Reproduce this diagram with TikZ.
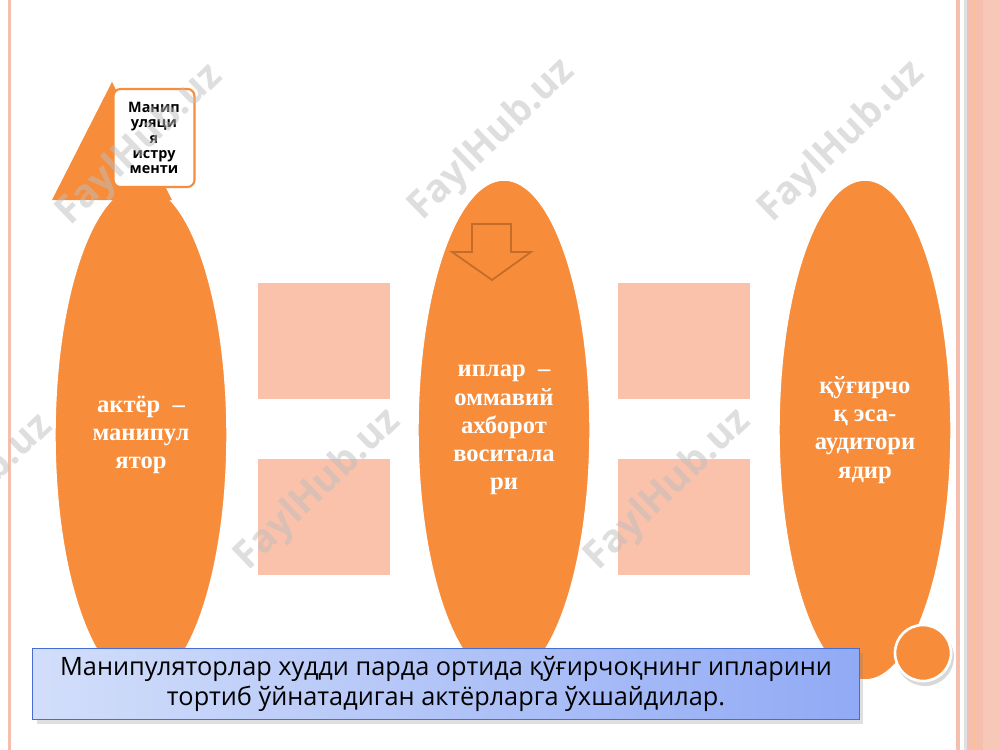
\documentclass[tikz,border=0pt]{standalone}
\usepackage{fontspec}
\setmainfont{Liberation Serif}
\newfontfamily\tagfont{Open Sans}
\usetikzlibrary{shapes.geometric,shadows}

\definecolor{petal}{RGB}{247,140,58}
\definecolor{petaldark}{RGB}{196,108,40}
\definecolor{blush}{RGB}{250,194,170}
\definecolor{edgepink}{RGB}{246,190,172}
\definecolor{noteleft}{RGB}{210,222,250}
\definecolor{noteright}{RGB}{145,170,245}
\definecolor{noteblue}{RGB}{70,110,210}

\tikzset{
  oval/.style={ellipse, fill=petal, draw=white, line width=0.8pt, inner sep=0pt,
    minimum width=3.44cm, minimum height=10cm, align=center, text=white,
    font=\fontsize{14}{16}\selectfont\bfseries},
  pad/.style={fill=blush, minimum width=2.64cm, minimum height=2.34cm, inner sep=0pt},
  tag/.style={rectangle, rounded corners=4pt, fill=white, draw=petal, line width=1.2pt,
    minimum width=1.62cm, minimum height=1.96cm, align=center, inner sep=0pt,
    font=\tagfont\fontsize{8.2}{8.7}\selectfont\bfseries},
  note/.style={rectangle, left color=noteleft, right color=noteright,
    draw=noteblue, line width=0.8pt, minimum width=16.54cm, minimum height=1.42cm,
    align=center, inner sep=0pt, drop shadow={opacity=0.25},
    font=\tagfont\fontsize{14.4}{17}\selectfont},
  stamp/.style={rotate=44, text={rgb,255:red,190;green,190;blue,190}, opacity=0.5,
    font=\tagfont\fontsize{22}{22}\selectfont\bfseries}
}

\begin{document}
\begin{tikzpicture}[x=0.02cm,y=-0.02cm]
\useasboundingbox (0,0) rectangle (1000,750);

% page edges
\fill[edgepink] (8,0) rectangle (11,750);
\fill[edgepink] (956,0) rectangle (1000,750);
\fill[white] (960,0) rectangle (964,750);
\fill[black!12] (964,0) rectangle (967,750);
\fill[petal!55] (973,0) rectangle (975,750);
\fill[edgepink!85!white] (983,0) rectangle (1000,750);

% pale squares
\node[pad] (padA) at (324,341) {};
\node[pad] (padB) at (324,517) {};
\node[pad] (padC) at (684,341) {};
\node[pad] (padD) at (684,517) {};

% the three ovals
\node[oval] (actor) at (141,435) {актёр\ \ –\\манипул\\ятор};
\node[oval] (strings) at (504,430) {иплар\ \ –\\оммавий\\ахборот\\воситала\\ри};
\node[oval] (puppet) at (865,430) {қўғирчо\\қ эса-\\аудитори\\ядир};

% triangle and label box
\fill[petal] (112,82) -- (52,200) -- (172,200) -- cycle;
\node[tag] (tools) at (154,138) {Манип\\уляци\\я\\истру\\менти};

% down arrow
\draw[petaldark, line width=1pt, line join=miter]
  (472,224) -- (511,224) -- (511,252) -- (531,252) -- (492,280)
  -- (452,252) -- (472,252) -- cycle;

% small circle
\fill[black!30, opacity=0.5] (925,657) circle (29);
\filldraw[fill=petal, draw=white, line width=1.5pt] (923,653) circle (28);

% caption
\node[note] (caption) at (446,684)
  {Манипуляторлар худди парда ортида қўғирчоқнинг ипларини\\
   тортиб ўйнатадиган актёрларга ўхшайдилар.};

% watermarks
\node[stamp] (wmA) at (140,145) {FaylHub.uz};
\node[stamp] (wmB) at (492,140) {FaylHub.uz};
\node[stamp] (wmC) at (842,142) {FaylHub.uz};
\node[stamp] (wmD) at (-30,495) {FaylHub.uz};
\node[stamp] (wmE) at (318,490) {FaylHub.uz};
\node[stamp] (wmF) at (668,490) {FaylHub.uz};

\end{tikzpicture}
\end{document}
